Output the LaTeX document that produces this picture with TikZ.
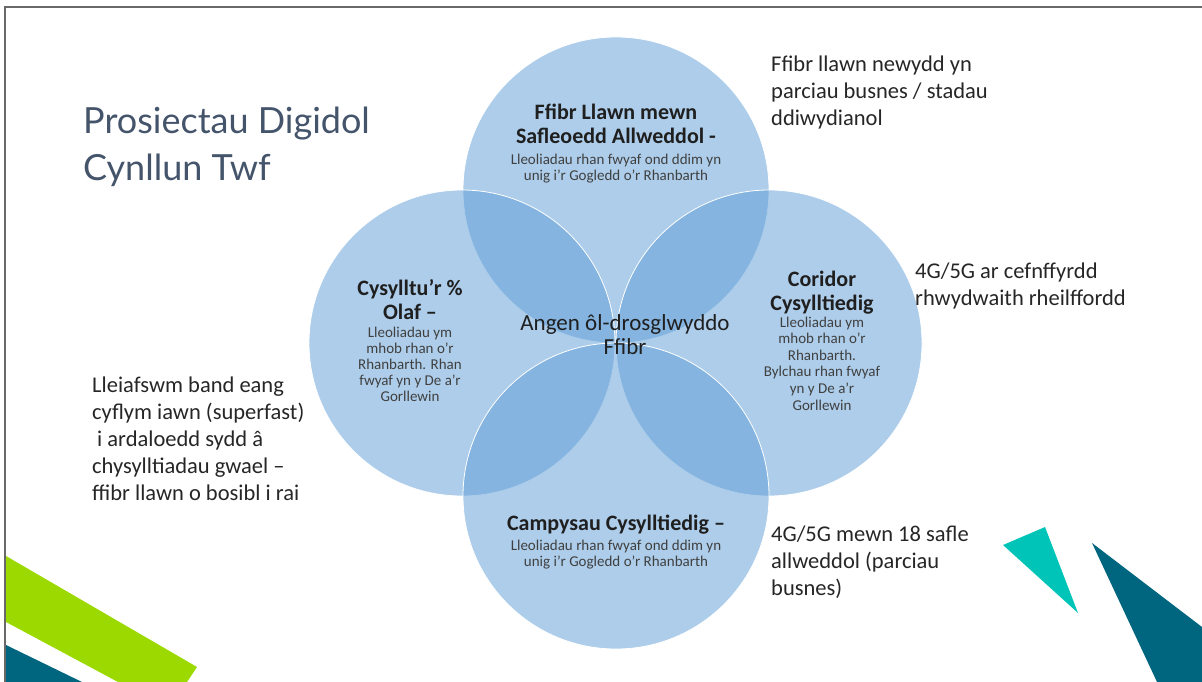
\documentclass[tikz,border=0pt]{standalone}
\usepackage{fontspec}
\setmainfont{Carlito}
\newfontfamily\titlefont{Lato}
\definecolor{vennblue}{RGB}{91,155,213}
\definecolor{titlegrey}{RGB}{68,84,106}
\definecolor{limegreen}{RGB}{155,217,0}
\definecolor{deepteal}{RGB}{0,102,127}
\definecolor{brightteal}{RGB}{0,196,184}
\definecolor{notegrey}{RGB}{64,64,64}
\definecolor{framegrey}{RGB}{105,105,105}
\begin{document}
\begin{tikzpicture}[x=1pt, y=-1pt,
        venn/.style = {circle, minimum size=306pt, inner sep=0pt,
          fill=vennblue, fill opacity=0.5, draw=white, line width=0.8pt},
        head/.style = {align=center, anchor=base, inner sep=0pt,
          font=\bfseries\fontsize{22}{24.5}\selectfont, text=black!88},
        note/.style = {align=center, anchor=base, inner sep=0pt,
          font=\fontsize{15}{15.8}\selectfont, text=notegrey},
        side/.style = {align=left, anchor=base west, inner sep=0pt,
          font=\fontsize{22.5}{27}\selectfont, text=black!85}
        ]
    \useasboundingbox (0,0) rectangle (1202,682);
    % frame of the slide
    \draw[framegrey, line width=1.4pt] (5,682) -- (5,7) -- (1202,7);
    % corner shapes
    \fill[limegreen] (6,556) -- (197,667) -- (187,682) -- (118,682) -- (6,622) -- cycle;
    \fill[deepteal] (6,645) -- (82,682) -- (6,682) -- cycle;
    \fill[brightteal] (1003,545) -- (1045,527) -- (1078,613) -- cycle;
    \fill[deepteal] (1092,543) -- (1202,627) -- (1202,682) -- (1157,682) -- cycle;
    % title (base = last line)
    \node[align=left, anchor=base west, inner sep=0pt, text=titlegrey,
          font=\titlefont\fontsize{36}{47}\selectfont] (title) at (83,180)
        {Prosiectau Digidol\\Cynllun Twf};
    % the four circles
    \node[venn] (ctop) at (616,190) {};
    \node[venn] (cleft) at (462,343) {};
    \node[venn] (cright) at (769,343) {};
    \node[venn] (cbottom) at (616,496) {};
    % texts in the circles
    \node[head] (toph) at (616,143.5) {Ffibr Llawn mewn\\Safleoedd Allweddol -};
    \node[note] (topn) at (616,180) {Lleoliadau rhan fwyaf ond ddim yn\\unig i’r Gogledd o’r Rhanbarth};
    \node[head] (lefth) at (410,319.5) {Cysylltu’r \%\\Olaf –};
    \node[note] (leftn) at (410,401) {Lleoliadau ym\\mhob rhan o’r\\Rhanbarth. Rhan\\fwyaf yn y De a’r\\Gorllewin};
    \node[head] (righth) at (822,310.5) {Coridor\\Cysylltiedig};
    \node[note, font=\fontsize{15}{16.6}\selectfont] (rightn) at (822,410)
        {Lleoliadau ym\\mhob rhan o’r\\Rhanbarth.\\Bylchau rhan fwyaf\\yn y De a’r\\Gorllewin};
    \node[head] (bottomh) at (616,530) {Campysau Cysylltiedig –};
    \node[note] (bottomn) at (616,566) {Lleoliadau rhan fwyaf ond ddim yn\\unig i’r Gogledd o’r Rhanbarth};
    \node[head, font=\fontsize{23}{24}\selectfont] (centre) at (625,354) {Angen ôl-drosglwyddo\\Ffibr};
    % texts round the circles
    \node[side] (parks) at (771,126) {Ffibr llawn newydd yn\\parciau busnes / stadau\\ddiwydianol};
    \node[side] (rail) at (915,305) {4G/5G ar cefnffyrdd\\rhwydwaith rheilffordd};
    \node[side] (superfast) at (92,500) {Lleiafswm band eang\\cyflym iawn (superfast)\\\hspace{5pt}i ardaloedd sydd â\\chysylltiadau gwael –\\ffibr llawn o bosibl i rai};
    \node[side] (sites) at (771,595) {4G/5G mewn 18 safle\\allweddol (parciau\\busnes)};
\end{tikzpicture}
\end{document}
